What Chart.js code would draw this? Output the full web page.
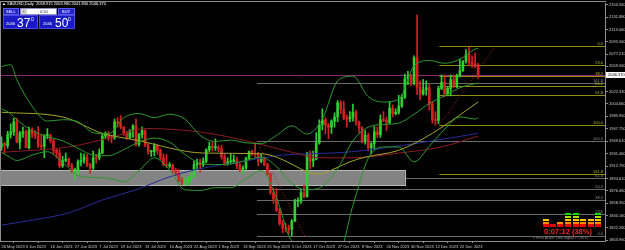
<!DOCTYPE html>
<html><head><meta charset="utf-8">
<script src="https://cdn.jsdelivr.net/npm/chart.js@4/dist/chart.umd.min.js"></script>
<style>
html,body{margin:0;padding:0;background:#000;overflow:hidden}
#wrap{position:relative;width:625px;height:250px;background:#000}
canvas{position:absolute;left:0;top:0}
.t{position:absolute;font-family:"Liberation Sans",Arial,sans-serif;white-space:nowrap;line-height:1}
.box{position:absolute;box-sizing:border-box}
</style></head><body>
<div id="wrap">
<canvas id="c" width="625" height="250"></canvas>
<div class="t" style="left:2px;top:2px;font-size:4px;color:#fff">&#9650; XAUUSD,Daily&nbsp; 2058.915 2063.980 2041.830 2046.370</div>
<div class="box" style="left:3px;top:8px;width:16px;height:7px;background:#2323d0;border:1px solid #5a5af0"></div>
<div class="t" style="left:6px;top:9.5px;font-size:4px;color:#fff">SELL</div>
<div class="box" style="left:20px;top:8px;width:37px;height:7px;background:#fff;border:1px solid #9090c0"></div>
<div class="box" style="left:21px;top:9px;width:6px;height:5px;background:#d8d8d8"></div>
<div class="t" style="left:22.5px;top:9.5px;font-size:4px;color:#333">&#8801;</div>
<div class="t" style="left:40px;top:9.5px;font-size:4px;color:#222">0.50</div>
<div class="box" style="left:58px;top:8px;width:17px;height:7px;background:#2323d0;border:1px solid #5a5af0"></div>
<div class="t" style="left:62px;top:9.5px;font-size:4px;color:#fff">BUY</div>
<div class="box" style="left:3px;top:15px;width:35px;height:14px;background:#1a1ac4;border:1px solid #4848e0"></div>
<div class="t" style="left:6px;top:22px;font-size:4px;color:#fff">2046</div>
<div class="t" style="left:17px;top:17px;font-size:12px;color:#fff">37</div>
<div class="t" style="left:31px;top:16.5px;font-size:5px;color:#fff">0</div>
<div class="box" style="left:39px;top:15px;width:36px;height:14px;background:#1a1ac4;border:1px solid #4848e0"></div>
<div class="t" style="left:43px;top:22px;font-size:4px;color:#fff">2046</div>
<div class="t" style="left:55px;top:17px;font-size:12px;color:#fff">50</div>
<div class="t" style="left:68px;top:16.5px;font-size:5px;color:#fff">0</div>
<div id="meter"></div>
<div class="t" style="left:544px;top:227.5px;font-size:7.5px;color:#ff2424;font-weight:bold">0:07:12 (38%)</div>
<div class="t" style="left:533px;top:237px;font-size:3.5px;color:#8a8a8a">&lt; Price Action Time Signal &gt; &copy;2011</div>
</div>
<script>
// ---------- data ----------
const SLOTS = 198;
const dateTickIdx = [0,8,16,24,32,39,47,55,63,71,79,87,95,102,110,118,126,134,142,150];
const dateTickText = ["26 May 2023","6 Jun 2023","16 Jun 2023","27 Jun 2023","7 Jul 2023","19 Jul 2023","31 Jul 2023","10 Aug 2023","22 Aug 2023","1 Sep 2023","13 Sep 2023","25 Sep 2023","5 Oct 2023","17 Oct 2023","27 Oct 2023","8 Nov 2023","20 Nov 2023","30 Nov 2023","12 Dec 2023","22 Dec 2023"];
const yTickValues = [2150.560,2131.880,2113.000,2095.560,2077.210,2059.560,2022.330,2004.660,1985.950,1967.750,1949.610,1931.460,1912.790,1894.610,1876.460,1858.350,1840.160,1822.260,1803.960];
const Y_MIN = 1802.64, Y_MAX = 2152.03;

const opens = [1941,1946,1943,1959,1963,1978,1948,1961,1963,1940,1965,1961,1957,1943,1942,1958,1958,1950,1936,1932,
1913,1921,1923,1914,1907,1908,1919,1921,1926,1915,1910,1925,1925,1932,1957,1961,1955,1955,1978,1976,
1970,1961,1955,1965,1972,1945,1959,1965,1944,1934,1934,1943,1936,1925,1915,1913,1914,1907,1902,1891,
1889,1889,1895,1897,1915,1917,1915,1920,1937,1942,1940,1940,1938,1926,1916,1919,1919,1922,1913,1908,
1910,1924,1934,1931,1930,1920,1925,1915,1901,1874,1864,1848,1828,1822,1821,1820,1832,1861,1861,1874,
1868,1932,1920,1923,1947,1974,1981,1973,1970,1979,1985,2006,1996,1983,1982,1985,1992,1978,1969,1950,
1958,1940,1946,1963,1959,1981,1980,1977,1998,1990,1992,2001,2014,2041,2044,2036,2072,2029,2019,2025,
2028,2004,1981,1980,2027,2036,2019,2027,2040,2031,2045,2053,2067,2077,2065,2063,2058.915];
const highs = [1956,1948,1964,1975,1983,1983,1964,1970,1966,1970,1969,1965,1971,1959,1959,1968,1960,1952,1939,1937,
1927,1932,1925,1917,1910,1922,1932,1931,1930,1917,1935,1930,1938,1960,1963,1964,1958,1982,1984,1987,
1971,1964,1966,1974,1982,1961,1970,1966,1946,1936,1946,1944,1938,1931,1930,1918,1916,1910,1908,1896,
1896,1897,1904,1920,1923,1923,1925,1938,1948,1949,1953,1943,1943,1931,1925,1931,1929,1926,1917,1913,
1926,1935,1936,1947,1933,1930,1926,1917,1903,1880,1880,1851,1833,1829,1826,1834,1864,1866,1877,1885,
1933,1935,1935,1962,1981,1997,1984,1976,1981,1991,2009,2009,2008,1988,1993,2004,1995,1979,1971,1965,
1961,1947,1971,1970,1988,1993,1985,2008,2003,1997,2017,2018,2048,2052,2048,2075,2135,2038,2040,2038,
2034,2007,1993,2030,2047,2047,2029,2047,2047,2048,2070,2068,2084,2088,2075,2079,2063.98];
const lows = [1936,1932,1939,1954,1958,1947,1938,1955,1940,1938,1955,1953,1940,1937,1925,1953,1947,1931,1925,1910,
1911,1919,1912,1903,1893,1901,1913,1917,1912,1902,1908,1917,1922,1931,1953,1950,1947,1952,1970,1968,
1958,1952,1953,1955,1942,1942,1954,1941,1930,1927,1928,1930,1922,1913,1911,1910,1903,1899,1890,1885,
1885,1884,1889,1896,1909,1904,1912,1918,1934,1935,1936,1934,1923,1914,1914,1916,1917,1909,1905,1901,
1908,1923,1928,1926,1913,1918,1913,1899,1871,1858,1846,1826,1815,1816,1813,1810,1831,1853,1858,1866,
1867,1909,1912,1922,1945,1966,1960,1953,1961,1970,1978,1990,1981,1970,1978,1979,1973,1962,1947,1945,
1935,1931,1937,1955,1955,1978,1965,1975,1985,1988,1989,1999,2012,2033,2031,2032,2018,2010,2017,2017,
1995,1976,1973,1975,2025,2015,2016,2016,2028,2028,2044,2052,2064,2061,2058,2057,2041.83];
const closes = [1946,1943,1959,1963,1978,1948,1961,1963,1940,1965,1961,1957,1943,1942,1958,1958.5,1950,1936,1932,1913,
1921,1923,1914,1907,1908,1919,1921,1926,1915,1910,1925,1924,1932,1957,1961,1955,1954,1978,1976,1970,
1961,1955,1965,1972,1945,1959,1965,1944,1934,1934,1943,1936,1925,1915,1913,1914,1907,1902,1891,1889,
1889.5,1895,1897,1915,1917,1915,1920,1937,1942,1940,1940.5,1938,1926,1916,1919,1919.5,1922,1913,1908,1910,
1924,1934,1931,1930,1920,1925,1915,1901,1874,1864,1848,1828,1822,1821,1820,1832,1861,1861.5,1874,1868,
1932,1920,1923,1947,1974,1981,1973,1970,1979,1985,2006,1996,1983,1982,1985,1992,1978,1969,1950,1958,
1940,1946,1963,1959,1981,1980,1977,1998,1990,1992,2001,2014,2041,2044,2036,2072,2029,2019,2025,2028,
2004,1981,1980,2027,2036,2019,2027,2040,2031,2045,2053,2067,2077,2065,2063,2059,2046.37];

// Bollinger Bands (green)
const bbIdx   = [0,3,5,10,15,20,25,30,35,40,45,50,55,60,65,70,75,80,85,90,95,100,105,110,115,120,125,130,135,140,145,150,155,156];
const bbUpper = [2059,2062,2040,2001,1979,1981,1978,1962,1960,1984,1990,1984,1989,1982,1958,1949,1951,1947,1946,1958,1972,1960,1982,2038,2045,2015,2007,2011,2060,2068,2064,2070,2085,2086];
const bbMid   = [1997,1990,1981,1965,1956,1950,1939,1929,1928,1937,1948,1954,1948,1930,1917,1915,1916,1921,1926,1912,1887,1878,1883,1909,1950,1970,1974,1976,1989,2005,2016,2028,2034,2035];
const bbLower = [1933,1925,1921,1929,1934,1918,1899,1896,1895,1890,1906,1925,1907,1878,1877,1881,1881,1894,1906,1866,1803,1796,1785,1780,1855,1924,1941,1941,1919,1942,1967,1985,1982,1984];
// moving averages
const ma50Idx  = [0,20,33,44,66,85,90,101,104,108,114,119,130,141,156];
const ma50     = [1992,1985,1961,1951,1932,1931,1926,1903,1901,1907,1919,1926,1936,1961,2007];
const ma100Idx = [0,22,36,47,65,82,96,104,115,130,144,156];
const ma100    = [1933,1941,1955,1968,1963,1948,1932,1925,1925,1932,1941,1957];
const ma200Idx = [0,11,22,33,44,55,63,82,92,108,115,137,156];
const ma200    = [1826,1834,1844,1863,1878,1897,1907,1922,1929,1932,1934,1947,1961];

// Fibonacci objects and zone
const fibLevels   = ["0.0","23.6","38.2","50.0","61.8","100.0","161.8"];
const olivePrices = [2088.9,2061.5,2044.6,2031.0,2017.3,1973.0,1901.4];
const oliveStart  = 143.3;
const oliveAnchor = [[143.3,1973.0],[161.6,2088.9]];
const grayPrices  = [1809.5,1842.4,1862.8,1879.3,1895.7,1949.0,2035.2];
const grayStart   = 83.6;
const grayAnchor  = [[83.6,1949.0],[99.3,1809.5]];
const zoneIdx     = [-0.5,132.0];
const zonePrice   = [1884.9,1906.9];
const bidPrice    = 2046.37;
const meterLevels = [3,1,2,5,5,3,3,5];

// ---------- meter widget ----------
(function(){
  const m = document.getElementById('meter');
  const cols = [543,550,557,565,573,580,588,595];
  const lvlTop = [224,221.5,218.5,215.5,212.5];
  const lvlH = [3,2,2,2,2];
  const lvlCol = ['#e60000','#ff8a00','#ffc800','#a8e000','#00e000'];
  meterLevels.forEach((n,c)=>{
    for(let k=0;k<n;k++){
      const d=document.createElement('div');
      d.className='box';
      d.style.cssText=`left:${cols[c]}px;top:${lvlTop[k]}px;width:6px;height:${lvlH[k]}px;background:${lvlCol[k]}`;
      m.appendChild(d);
    }
  });
})();

// ---------- chart ----------
const GREEN='#2fd02f', RED='#d42222';
const up = i => closes[i] >= opens[i];
const wickData = highs.map((h,i)=>({x:i, y:[lows[i],h]}));
const bodyData = opens.map((o,i)=>({x:i, y:[o,closes[i]]}));
const pts = (ix,vals)=>ix.map((x,i)=>({x, y:vals[i]}));
const lineDs = (data,color,order)=>({type:'line',data,borderColor:color,borderWidth:1,pointRadius:0,tension:0.4,cubicInterpolationMode:'monotone',order});

const overlay = {
  id:'overlay',
  beforeDraw(chart){
    const c=chart.ctx; c.save(); c.fillStyle='#000'; c.fillRect(0,0,chart.width,chart.height); c.restore();
  },
  beforeDatasetsDraw(chart){
    const c=chart.ctx, xs=chart.scales.x, ys=chart.scales.y, a=chart.chartArea;
    c.save();
    c.beginPath(); c.rect(a.left,a.top,a.right-a.left,a.bottom-a.top); c.clip();
    const hline=(p,x0,color)=>{const y=Math.round(ys.getPixelForValue(p))+0.5;c.strokeStyle=color;c.lineWidth=1;c.beginPath();c.moveTo(x0,y);c.lineTo(a.right,y);c.stroke();return y;};
    c.font='4px "Liberation Sans", Arial'; c.textAlign='right'; c.textBaseline='bottom';
    hline(bidPrice,a.left,'#8a2a70');
    grayPrices.forEach((p,i)=>{const y=hline(p,xs.getPixelForValue(grayStart),'#6a6a6a');c.fillStyle='#8c8c8c';c.fillText(fibLevels[i],a.right-2,y-0.5);});
    olivePrices.forEach((p,i)=>{const y=hline(p,xs.getPixelForValue(oliveStart),'#8e8e12');c.fillStyle='#b4b420';c.fillText(fibLevels[i],a.right-2,y-0.5);});
    const zx0=xs.getPixelForValue(zoneIdx[0]), zx1=xs.getPixelForValue(zoneIdx[1]);
    const zy0=ys.getPixelForValue(zonePrice[1]), zy1=ys.getPixelForValue(zonePrice[0]);
    c.fillStyle='#838383'; c.fillRect(zx0,zy0,zx1-zx0,zy1-zy0);
    c.strokeStyle='#b8b8b8'; c.lineWidth=1; c.strokeRect(Math.round(zx0)+0.5,Math.round(zy0)+0.5,Math.round(zx1-zx0),Math.round(zy1-zy0));
    c.strokeStyle='#b02020'; c.setLineDash([1,2]);
    [grayAnchor,oliveAnchor].forEach(an=>{c.beginPath();c.moveTo(xs.getPixelForValue(an[0][0]),ys.getPixelForValue(an[0][1]));c.lineTo(xs.getPixelForValue(an[1][0]),ys.getPixelForValue(an[1][1]));c.stroke();});
    c.setLineDash([]);
    c.restore();
  },
  afterDraw(chart){
    const c=chart.ctx, ys=chart.scales.y, a=chart.chartArea;
    c.save();
    c.strokeStyle='#8c8c8c'; c.lineWidth=1;
    c.beginPath(); c.moveTo(0,1.5); c.lineTo(a.right+1,1.5); c.moveTo(0.5,1.5); c.lineTo(0.5,a.bottom); c.stroke();
    const y=Math.round(ys.getPixelForValue(bidPrice));
    c.fillStyle='#fff'; c.fillRect(a.right+1,y-3,19,6);
    c.fillStyle='#000'; c.font='4px "Liberation Sans", Arial'; c.textAlign='left'; c.textBaseline='middle';
    c.fillText(bidPrice.toFixed(3),a.right+3,y+0.3);
    c.restore();
  }
};

new Chart(document.getElementById('c'),{
  data:{datasets:[
    lineDs(pts(bbIdx,bbUpper),'#2c9a2c',0),
    lineDs(pts(bbIdx,bbMid),'#2c9a2c',0),
    lineDs(pts(bbIdx,bbLower),'#2c9a2c',0),
    lineDs(pts(ma50Idx,ma50),'#a3a32a',0),
    lineDs(pts(ma100Idx,ma100),'#8c1c22',0),
    lineDs(pts(ma200Idx,ma200),'#2a2a9c',0),
    {type:'bar',data:bodyData,barThickness:2,minBarLength:1,grouped:false,order:2,
      backgroundColor:ctx=>up(ctx.dataIndex)?GREEN:RED,borderWidth:0},
    {type:'bar',data:wickData,barThickness:1,grouped:false,order:3,
      backgroundColor:ctx=>up(ctx.dataIndex)?GREEN:RED,borderWidth:0}
  ]},
  options:{
    responsive:false,animation:false,devicePixelRatio:1,
    layout:{padding:{left:0,right:0,top:3,bottom:0}},
    plugins:{legend:{display:false},tooltip:{enabled:false}},
    scales:{
      x:{type:'linear',min:-0.5,max:SLOTS-0.5,offset:false,
        afterBuildTicks:s=>{s.ticks=dateTickIdx.map(v=>({value:v}));},
        afterFit:s=>{s.height=9;},
        ticks:{autoSkip:false,maxRotation:0,minRotation:0,align:'start',padding:1,color:'#cfcfcf',
          font:{family:'"Liberation Sans", Arial',size:4},callback:(v,i)=>dateTickText[i]},
        grid:{drawOnChartArea:false,drawTicks:true,tickLength:2,color:'#8c8c8c'},
        border:{display:true,color:'#8c8c8c'}},
      y:{position:'right',min:Y_MIN,max:Y_MAX,
        afterBuildTicks:s=>{s.ticks=yTickValues.map(v=>({value:v}));},
        afterFit:s=>{s.width=20;},
        ticks:{padding:1,color:'#cfcfcf',font:{family:'"Liberation Sans", Arial',size:4},callback:v=>Number(v).toFixed(3)},
        grid:{drawOnChartArea:false,drawTicks:true,tickLength:3,color:'#8c8c8c'},
        border:{display:true,color:'#8c8c8c'}}
    }
  },
  plugins:[overlay]
});
</script>
</body></html>
